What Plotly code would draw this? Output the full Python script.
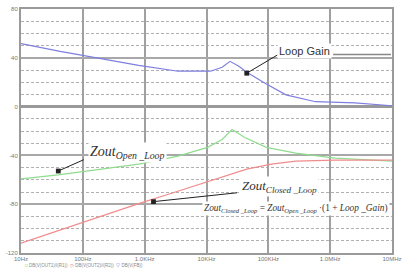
import plotly.graph_objects as go
import math

# ---- data (frequency in Hz, magnitude in dB) ----
loop_f = [10, 43, 186, 800, 3470, 11600, 17900, 24000, 33400, 44800, 92900, 193000, 578000, 2500000, 10000000]
loop_db = [51.7, 45.2, 39.5, 33.8, 29.0, 29.0, 32.2, 37.1, 33.1, 28.2, 18.5, 9.6, 4.0, 3.1, 0.7]

zol_f = [10, 40, 800, 3470, 10400, 17900, 25900, 41600, 92900, 278000, 1200000, 10000000]
zol_db = [-59.3, -56.0, -47.1, -40.6, -33.4, -26.9, -18.8, -25.3, -33.4, -38.2, -42.3, -44.7]

zcl_f = [10, 186, 800, 2890, 17900, 44800, 112000, 278000, 1200000, 10000000]
zcl_db = [-111.9, -90.0, -79.5, -70.6, -57.6, -51.2, -47.1, -44.7, -43.9, -43.9]

x_tickvals = [10, 100, 1000, 10000, 100000, 1000000, 10000000]
x_ticktext = ["10Hz", "100Hz", "1.0KHz", "10KHz", "100KHz", "1.0MHz", "10MHz"]
y_tickvals = [-120, -80, -40, 0, 40, 80]
y_ticktext = ["-120", "-80", "-40", "0", "40", "80"]

W, H = 408, 268
L, R, T, B = 20, 10, 6, 15
PW, PH = W - L - R, H - T - B

def px(x):
    return (x - L) / PW

def py(y):
    return (H - B - y) / PH

fig = go.Figure()
fig.add_trace(go.Scatter(x=zol_f, y=zol_db, mode="lines", line=dict(color="#8fdc8f", width=1.2), name="ZoutOpen"))
fig.add_trace(go.Scatter(x=zcl_f, y=zcl_db, mode="lines", line=dict(color="#f08c8c", width=1.2), name="ZoutClosed"))
fig.add_trace(go.Scatter(x=loop_f, y=loop_db, mode="lines", line=dict(color="#7f7fe0", width=1.2), name="Loop"))

fig.update_layout(
    width=W, height=H,
    margin=dict(l=L, r=R, t=T, b=B),
    paper_bgcolor="white", plot_bgcolor="white",
    showlegend=False,
    font=dict(family="Liberation Sans, Arial", size=6, color="#777"),
)
fig.update_xaxes(
    type="log", range=[1, 7], tickvals=x_tickvals, ticktext=x_ticktext,
    showgrid=True, gridcolor="#a0a0a0", gridwidth=1.5,
    showline=True, mirror=True, linecolor="#9a9a9a", linewidth=2,
    ticks="", tickfont=dict(size=6, color="#777"), zeroline=False,
    ticklabelstandoff=-1,
)
fig.update_yaxes(
    range=[-120, 80], tickvals=y_tickvals, ticktext=y_ticktext,
    showgrid=True, gridcolor="#a8a8a8", gridwidth=1.5,
    zeroline=True, zerolinecolor="#999", zerolinewidth=2.5,
    showline=True, mirror=True, linecolor="#9a9a9a", linewidth=2,
    ticks="", tickfont=dict(size=6, color="#777"),
    minor=dict(dtick=10, tick0=0, showgrid=True, gridcolor="#b0b0b0", gridwidth=1, griddash="3px,2px"),
)

serif = "Liberation Serif, Times New Roman"

def arrow(x0, y0, x1, y1):
    # line from (x0,y0) to head (x1,y1) in pixels, square head
    fig.add_annotation(xref="paper", yref="paper", x=px(x1), y=py(y1),
                       axref="pixel", ayref="pixel", ax=x0 - x1, ay=y0 - y1,
                       text="", showarrow=True, arrowhead=7, arrowsize=1.2,
                       arrowwidth=1, arrowcolor="#222")

# Loop Gain label
fig.add_annotation(xref="paper", yref="paper", x=px(309), y=py(49), text="Loop Gain",
                   showarrow=False, font=dict(family="Liberation Sans, Arial", size=11, color="#333"),
                   bgcolor="white", xanchor="center", yanchor="middle")
fig.add_shape(type="line", xref="paper", yref="paper", x0=px(338), x1=px(397), y0=py(52), y1=py(52),
              line=dict(color="#888", width=1.5))
arrow(282, 52, 250, 71)

# Zout open loop label
fig.add_annotation(xref="paper", yref="paper", x=px(88), y=py(151),
                   text="<i>Zout</i><sub><i>Open _Loop</i></sub>",
                   showarrow=False, font=dict(family=serif, size=14, color="#333"),
                   bgcolor="white", xanchor="left", yanchor="middle")
arrow(85, 158, 58, 170)

# Zout closed loop label
fig.add_annotation(xref="paper", yref="paper", x=px(243), y=py(186),
                   text="<i>Zout</i><sub><i>Closed _Loop</i></sub>",
                   showarrow=False, font=dict(family=serif, size=13, color="#333"),
                   bgcolor="white", xanchor="left", yanchor="middle")
arrow(240, 192, 155, 201)

# formula
fig.add_annotation(xref="paper", yref="paper", x=px(204), y=py(208),
                   text="<i>Zout</i><sub><i>Closed _Loop</i></sub> = <i>Zout</i><sub><i>Open _Loop</i></sub> \u00b7(1 + <i>Loop _Gain</i>)",
                   showarrow=False, font=dict(family=serif, size=9.3, color="#333"),
                   bgcolor="white", xanchor="left", yanchor="middle")

# legend row at bottom
fig.add_annotation(xref="paper", yref="paper", x=px(22), y=py(265.5),
                   text="<span style='color:#5c5'>\u25a1</span> DB(V(OUT1)/I(R1))  <span style='color:#e66'>\u25c7</span> DB(V(OUT2)/I(R2))  <span style='color:#66e'>\u25bd</span> DB(V(FB))",
                   showarrow=False, font=dict(family="Liberation Sans, Arial", size=4.5, color="#888"),
                   xanchor="left", yanchor="middle")

fig.write_html("out.html")
